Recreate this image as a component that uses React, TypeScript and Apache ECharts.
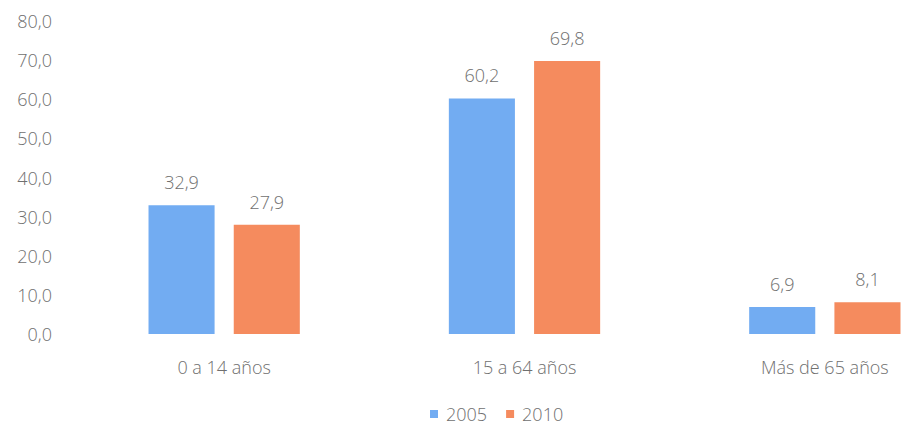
import React, { useEffect, useRef } from "react";
import * as echarts from "echarts";

const categories = ["0 a 14 años", "15 a 64 años", "Más de 65 años"];
const seriesNames = ["2005", "2010"];
const values2005 = [32.9, 60.2, 6.9];
const values2010 = [27.9, 69.8, 8.1];
const colors = ["#72acf2", "#f58b5e"];

const fmt = (v: number) => v.toFixed(1).replace(".", ",");
const FONT = "Open Sans";
const TEXT = "#6f6f6f";
const WEIGHT = 300;

export default function App() {
  const ref = useRef<HTMLDivElement>(null);
  useEffect(() => {
    if (!ref.current) return;
    const chart = echarts.init(ref.current, null, { renderer: "svg" });
    const mkSeries = (name: string, data: number[], color: string) => ({
      name,
      type: "bar",
      data,
      barWidth: "22%",
      barGap: "29%",
      itemStyle: { color },
      label: {
        show: true,
        position: "top",
        distance: 14,
        formatter: (p: any) => fmt(p.value),
        color: TEXT,
        fontFamily: FONT,
        fontWeight: WEIGHT,
        fontSize: 18,
      },
    });
    chart.setOption({
      animation: false,
      grid: { left: 74, width: 901, top: 21, bottom: 94, containLabel: false },
      legend: {
        data: seriesNames,
        left: 430,
        top: 404,
        padding: 0,
        icon: "rect",
        itemWidth: 8,
        itemHeight: 8,
        itemGap: 19,
        textStyle: { color: TEXT, fontFamily: FONT, fontWeight: WEIGHT, fontSize: 18, lineHeight: 20, padding: [0, 0, 0, 3] },
      },
      xAxis: {
        type: "category",
        data: categories,
        axisLine: { show: false },
        axisTick: { show: false },
        axisLabel: { color: TEXT, fontFamily: FONT, fontWeight: WEIGHT, fontSize: 18, margin: 24 },
      },
      yAxis: {
        type: "value",
        min: 0,
        max: 80,
        interval: 10,
        splitLine: { show: false },
        axisLine: { show: false },
        axisTick: { show: false },
        axisLabel: {
          color: TEXT,
          fontFamily: FONT,
          fontWeight: WEIGHT,
          fontSize: 18,
          margin: 22,
          formatter: (v: number) => fmt(v),
        },
      },
      series: [
        mkSeries(seriesNames[0], values2005, colors[0]),
        mkSeries(seriesNames[1], values2010, colors[1]),
      ],
    });
    return () => chart.dispose();
  }, []);
  return (
    <div style={{ width: 901, height: 428, position: "absolute", left: 0, top: 0, overflow: "hidden" }}>
      <div ref={ref} style={{ width: 1060, height: 428 }} />
    </div>
  );
}
